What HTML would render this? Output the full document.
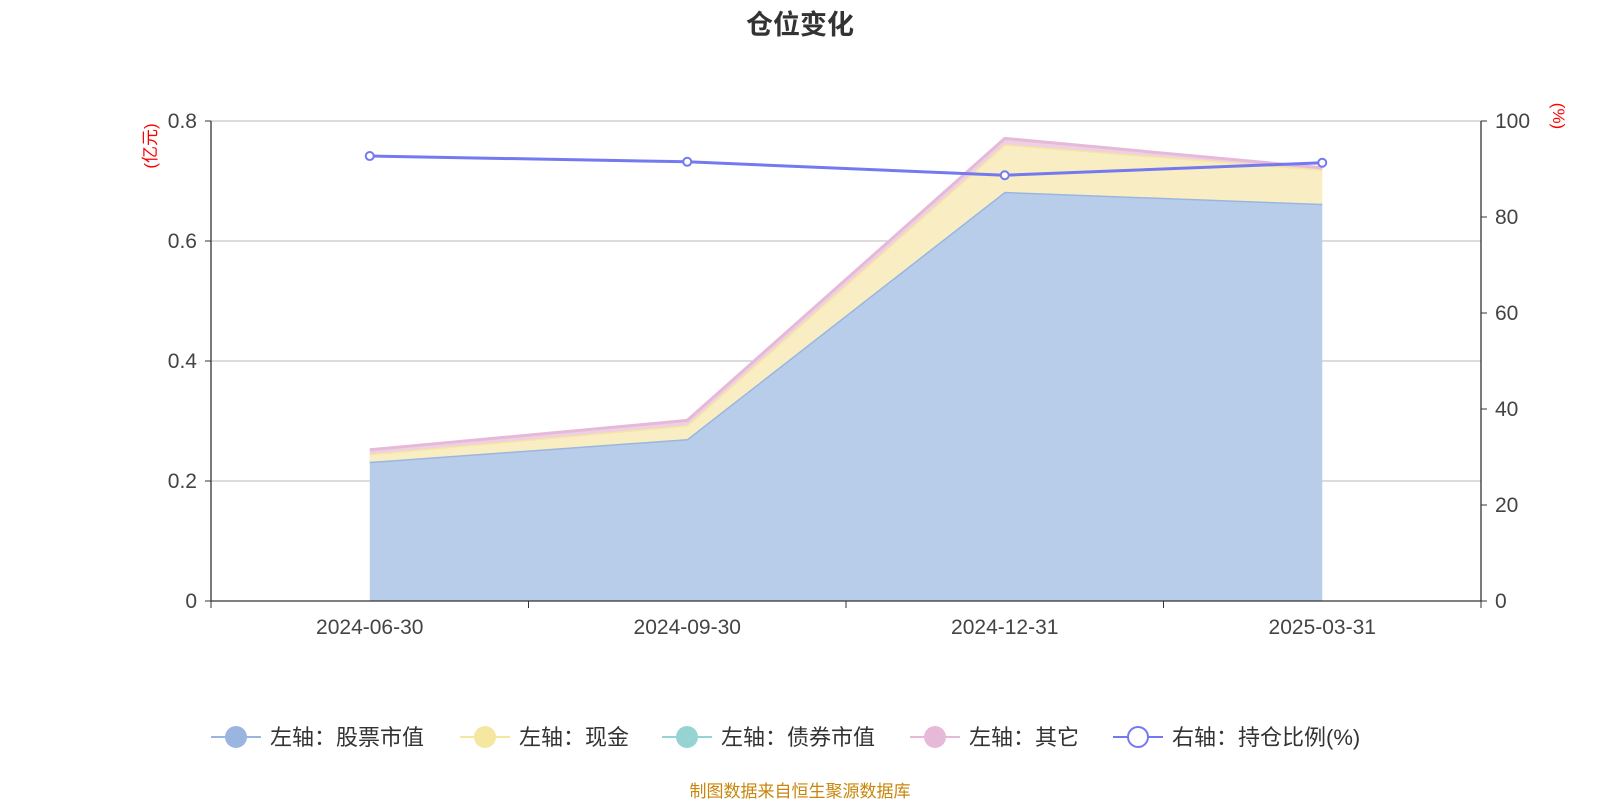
<!DOCTYPE html>
<html><head><meta charset="utf-8"><style>
body{margin:0;width:1600px;height:800px;background:#fff;overflow:hidden;font-family:"Liberation Sans","Noto Sans CJK SC",sans-serif;}
</style></head><body>
<svg id="chart" width="1600" height="800" xmlns="http://www.w3.org/2000/svg" font-family="Liberation Sans, Noto Sans CJK SC, sans-serif">
<text x="800" y="34" text-anchor="middle" font-size="27" font-weight="bold" fill="#333">仓位变化</text>
<text transform="translate(156,146) rotate(-90)" text-anchor="middle" font-size="17" fill="red">(亿元)</text>
<text transform="translate(1553,116) rotate(90)" text-anchor="middle" font-size="17" fill="red">(%)</text>
<g id="grid"></g><g id="areas"></g><g id="axes"></g><g id="line"></g>
<g id="legend"></g>
<text x="800" y="797" text-anchor="middle" font-size="17" fill="#c8860b">制图数据来自恒生聚源数据库</text>
</svg>
<script>
const categories=["2024-06-30","2024-09-30","2024-12-31","2025-03-31"];
const stockValues=[0.232,0.270,0.682,0.662];
const cashValues=[0.013,0.023,0.079,0.057];
const bondValues=[0,0,0,0];
const otherValues=[0.007,0.008,0.010,0.003];
const ratioValues=[92.7,91.5,88.7,91.3];
const leftTicks=[0,0.2,0.4,0.6,0.8];
const rightTicks=[0,20,40,60,80,100];
const NS="http://www.w3.org/2000/svg";
const X0=211,X1=1481,Y0=601,Y1=121;
const band=(X1-X0)/categories.length;
const xS=i=>X0+band*(i+0.5);
const yL=v=>Y0-(v/0.8)*(Y0-Y1);
const yR=v=>Y0-(v/100)*(Y0-Y1);
function mk(parent,tag,attrs){const e=document.createElementNS(NS,tag);for(const k in attrs)e.setAttribute(k,attrs[k]);document.getElementById(parent).appendChild(e);return e;}
leftTicks.forEach((t,i)=>{
 if(i>0){const g=mk('grid','line',{x1:X0,x2:X1,y1:yL(t),y2:yL(t),stroke:'#c8c8c8','stroke-width':1.3});
 
 }
 const tk=mk('axes','line',{x1:X0-6,x2:X0,y1:yL(t),y2:yL(t),stroke:'#333'});
 
 
 const tx=mk('axes','text',{x:X0-14,y:yL(t)+7,'text-anchor':'end','font-size':21,fill:'#444'});tx.textContent=t===0?'0':t.toFixed(1);
 
 
});
rightTicks.forEach(t=>{
 const tk=mk('axes','line',{x1:X1,x2:X1+6,y1:yR(t),y2:yR(t),stroke:'#333'});
 
 
 const tx=mk('axes','text',{x:X1+14,y:yR(t)+7,'font-size':21,fill:'#444'});tx.textContent=t;
 
 
});
const layers=[[stockValues,'#b8cdea','#9ab6e0','stock-area'],[cashValues,'#f9eec3','#f5e6a0','cash-area'],[bondValues,'#a6d9d9','#96d3d3','bond-area'],[otherValues,'#efd0e3','#e6b9d8','other-area']];
let base=categories.map(()=>0);
layers.forEach(([vals,fill,stroke,name])=>{
 const top=base.map((b,i)=>b+vals[i]);
 const vis=vals.some(v=>v>0)?1:0;
 let d=top.map((v,i)=>(i?'L':'M')+xS(i)+','+yL(v)).join('');
 for(let i=categories.length-1;i>=0;i--)d+='L'+xS(i)+','+yL(base[i]);
 const a=mk('areas','path',{d:d+'Z',fill:fill,'fill-opacity':vis});
 
 
 const l=mk('areas','polyline',{points:top.map((v,i)=>xS(i)+','+yL(v)).join(' '),fill:'none',stroke:stroke,'stroke-width':3,'stroke-opacity':vis});
 
 
 base=top;
});
const ax=mk('axes','line',{x1:X0,x2:X1,y1:Y0,y2:Y0,stroke:'#333','stroke-width':1.3});


const la=mk('axes','line',{x1:X0,x2:X0,y1:Y1,y2:Y0,stroke:'#333','stroke-width':1.3});


const ra=mk('axes','line',{x1:X1,x2:X1,y1:Y1,y2:Y0,stroke:'#333','stroke-width':1.3});


for(let i=0;i<=categories.length;i++){const t=mk('axes','line',{x1:X0+band*i,x2:X0+band*i,y1:Y0,y2:Y0+7,stroke:'#333'});
 
 }
categories.forEach((c,i)=>{const t=mk('axes','text',{x:xS(i),y:634,'text-anchor':'middle','font-size':21,fill:'#444'});t.textContent=c;
 
 });
const rl=mk('line','polyline',{points:ratioValues.map((v,i)=>xS(i)+','+yR(v)).join(' '),fill:'none',stroke:'#7479ef','stroke-width':3});


ratioValues.forEach((v,i)=>{const p=mk('line','circle',{cx:xS(i),cy:yR(v),r:4,fill:'#fff',stroke:'#7479ef','stroke-width':2});
 
 });
const legend=[['左轴：股票市值','#9ab6e0',false,211],['左轴：现金','#f5e6a0',false,460],['左轴：债券市值','#96d3d3',false,662],['左轴：其它','#e6b9d8',false,910],['右轴：持仓比例(%)','#7479ef',true,1113]];
legend.forEach(([t,c,hollow,x])=>{
 const g=mk('legend','g',{});
 
 
 const l=document.createElementNS(NS,'line');[['x1',x],['x2',x+50],['y1',737],['y2',737],['stroke',c],['stroke-width',2]].forEach(a=>l.setAttribute(a[0],a[1]));g.appendChild(l);
 const ci=document.createElementNS(NS,'circle');[['cx',x+25],['cy',737],['r',hollow?10:11],['fill',hollow?'#fff':c],['stroke',c],['stroke-width',hollow?2:0]].forEach(a=>ci.setAttribute(a[0],a[1]));g.appendChild(ci);
 const tx=document.createElementNS(NS,'text');[['x',x+59],['y',745],['font-size',22],['fill','#333']].forEach(a=>tx.setAttribute(a[0],a[1]));tx.textContent=t;g.appendChild(tx);
});
</script>
</body></html>
